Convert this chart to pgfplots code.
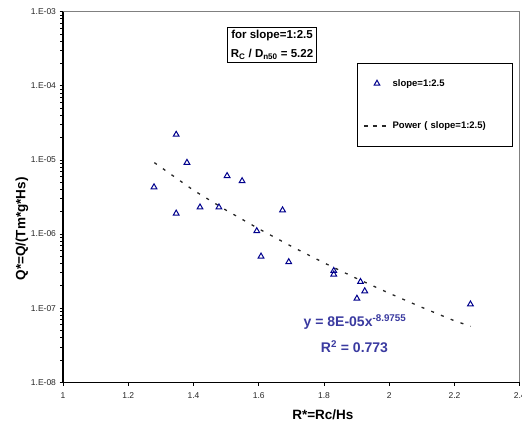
\documentclass[border=0pt]{standalone}
\usepackage{fontspec}
\setmainfont{Liberation Sans}
\usepackage{pgfplots}
\pgfplotsset{compat=1.18}
\definecolor{navy}{RGB}{0,0,140}
\definecolor{eqblue}{RGB}{58,58,160}
\pgfplotsset{
  markimg/.style={legend image code/.code={%
    \draw[mark repeat=2,mark phase=2,##1] plot coordinates {(0pt,0pt) (13pt,0pt) (26pt,0pt)};}},
  lineimg/.style={legend image code/.code={%
    \draw[##1, dash pattern=on 4pt off 5pt] (0pt,0pt) -- (26pt,0pt);}},
}
\begin{document}
\begin{tikzpicture}
\begin{axis}[
  at={(63pt,44.7pt)}, anchor=south west,
  scale only axis, width=456.7pt, height=370.6pt,
  ymode=log, xmin=1, xmax=2.4, ymin=1e-8, ymax=1e-3,
  xtick={1,1.2,1.4,1.6,1.8,2,2.2,2.4},
  xticklabels={1,1.2,1.4,1.6,1.8,2,2.2,2.4},
  ytick={1e-8,1e-7,1e-6,1e-5,1e-4,1e-3},
  yticklabels={1.E-08,1.E-07,1.E-06,1.E-05,1.E-04,1.E-03},
  minor tick num=0,
  tick align=outside, tick pos=left, major tick length=3.5pt,
  tick style={black, line width=0.8pt},
  axis line style={draw=gray, line width=0.7pt},
  clip=false,
  tick label style={font=\fontsize{8.5}{10}\selectfont, text=black!85},
  xticklabel style={yshift=-3pt},
  xlabel={R*=Rc/Hs}, ylabel={Q*=Q/(Tm*g*Hs)},
  label style={font=\bfseries\fontsize{13.5}{16}\selectfont},
  xlabel style={at={(axis description cs:0.569,-0.0882)}, anchor=center},
  ylabel style={at={(axis description cs:-0.0898,0.414)}, anchor=center},
  legend cell align=left,
  legend style={at={(axis description cs:0.9853,0.8616)}, anchor=north east,
    draw=black, line width=0.7pt, font=\bfseries\fontsize{9.5}{11}\selectfont,
    inner xsep=6pt, inner ysep=14pt, row sep=30pt,
    nodes={text width=112pt}},
]
\addplot[only marks, mark=triangle, mark size=3.3pt, draw=navy,
  mark options={line width=1pt, draw=navy}, markimg] coordinates {
  (1.279,4.3e-6) (1.347,2.2e-5) (1.380,9.2e-6) (1.347,1.9e-6)
  (1.420,2.3e-6) (1.478,2.3e-6) (1.503,6.1e-6) (1.549,5.2e-6)
  (1.594,1.1e-6) (1.607,5.0e-7) (1.673,2.1e-6) (1.692,4.2e-7)
  (1.830,3.2e-7) (1.830,2.86e-7) (1.912,2.27e-7) (1.925,1.7e-7)
  (1.901,1.35e-7) (2.249,1.13e-7)
};
\addlegendentry{slope=1:2.5}
\addplot[black!85, line width=1.3pt, dash pattern=on 3pt off 7.5pt, lineimg] coordinates {
  (1.28,9.2e-6) (1.4,3.90e-6) (1.5,2.10e-6) (1.6,1.178e-6)
  (1.7,6.84e-7) (1.8,4.09e-7) (1.9,2.52e-7) (2.0,1.59e-7)
  (2.1,1.026e-7) (2.2,6.76e-8) (2.25,5.7e-8)
};
\addlegendentry{Power ( slope=1:2.5)}
\draw[black, line width=1.2pt] (rel axis cs:0,1) -- (rel axis cs:0,0) -- (rel axis cs:1,0);
\end{axis}
\node[draw, line width=0.8pt, align=center, inner sep=3pt,
  font=\bfseries\fontsize{11.5}{19}\selectfont] at (272pt,382pt)
  {for slope=1:2.5\\R\textsubscript{C} / D\textsubscript{n50} = 5.22};
\node[text=eqblue, font=\bfseries\fontsize{14}{16}\selectfont] at (355pt,105pt)
  {y = 8E-05x\textsuperscript{-8.9755}};
\node[text=eqblue, font=\bfseries\fontsize{14}{16}\selectfont] at (354.5pt,80pt)
  {R\textsuperscript{2} = 0.773};
\pgfresetboundingbox
\path[use as bounding box] (0,0) rectangle (522pt,427pt);
\end{tikzpicture}
\end{document}
